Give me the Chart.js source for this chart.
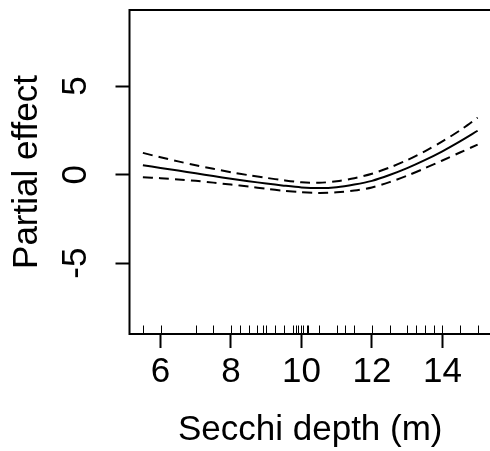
<!DOCTYPE html>
<html lang="en">
<head>
<meta charset="UTF-8">
<title>Secchi depth - partial effect</title>
<script src="https://cdn.jsdelivr.net/npm/chart.js@4/dist/chart.umd.min.js"></script>
<style>
  html, body { margin: 0; padding: 0; background: #fff; overflow: hidden; }
  canvas { display: block; }
</style>
</head>
<body>
<!-- a few pixels wider than the window so the right edge of the box falls outside -->
<canvas id="grafico" width="496" height="451"></canvas>

<script>
// smooth term for Secchi depth: fit and the two dashed bands
var secchi = [5.5, 6.0, 6.5, 7.0, 7.5, 8.0, 8.5, 9.0, 9.5, 10.0, 10.5, 11.0, 11.5, 12.0, 12.5, 13.0, 13.5, 14.0, 14.5, 15.0];
var fitted = [0.53, 0.38, 0.23, 0.08, -0.08, -0.23, -0.37, -0.50, -0.62, -0.72, -0.76, -0.71, -0.56, -0.35, -0.02, 0.37, 0.82, 1.32, 1.88, 2.48];
var upper  = [1.23, 0.98, 0.75, 0.53, 0.33, 0.14, -0.03, -0.18, -0.32, -0.43, -0.46, -0.37, -0.20, 0.05, 0.40, 0.82, 1.32, 1.88, 2.50, 3.22];
var lower  = [-0.14, -0.20, -0.27, -0.35, -0.45, -0.56, -0.67, -0.80, -0.91, -0.99, -1.03, -1.00, -0.90, -0.72, -0.42, -0.06, 0.36, 0.80, 1.25, 1.70];

// observed depths, drawn as a rug along the bottom
var rugDepths = [5.5, 6, 7, 7.5, 8, 8.25, 8.5, 8.75, 8.9, 9, 9.25, 9.5, 9.75, 9.85, 9.9, 10, 10.05, 10.15, 10.2, 10.5,
                 11, 11.25, 11.5, 12, 12.5, 13, 13.25, 13.5, 13.75, 14, 14.5, 15];

var xTicks = [6, 8, 10, 12, 14];
var yTicks = [-5, 0, 5];

var famiglia = '"Liberation Sans", Arial, Helvetica, sans-serif';

function punti(ys) {
    return secchi.map(function(x, i) { return { x: x, y: ys[i] }; });
}

// box round the plot area plus the rug
var boxERug = {
    id: 'boxERug',
    afterDatasetsDraw: function(chart) {
        var ctx = chart.ctx;
        var a = chart.chartArea;
        var sx = chart.scales.x;
        ctx.save();
        ctx.strokeStyle = '#000';
        ctx.lineWidth = 1;
        ctx.beginPath();
        rugDepths.forEach(function(d) {
            var px = Math.round(sx.getPixelForValue(d)) + 0.5;
            ctx.moveTo(px, a.bottom);
            ctx.lineTo(px, a.bottom - 8.5);
        });
        ctx.stroke();
        ctx.lineWidth = 2;
        ctx.strokeRect(a.left, a.top, a.right - a.left, a.bottom - a.top);
        ctx.restore();
    }
};

var linea = { borderColor: '#000', borderWidth: 2, pointRadius: 0, tension: 0.3, fill: false };

var data = {
    datasets: [
        Object.assign({ label: 'upper', data: punti(upper), borderDash: [10, 6] }, linea),
        Object.assign({ label: 'lower', data: punti(lower), borderDash: [10, 6] }, linea),
        Object.assign({ label: 'fit', data: punti(fitted) }, linea)
    ]
};

var options = {
    responsive: false,
    animation: false,
    devicePixelRatio: 1,
    layout: { padding: { top: 10, right: 5, left: 0, bottom: 0 } },
    plugins: { legend: { display: false }, tooltip: { enabled: false } },
    scales: {
        x: {
            type: 'linear',
            min: 5.12,
            max: 15.38,
            afterBuildTicks: function(s) { s.ticks = xTicks.map(function(v) { return { value: v }; }); },
            afterFit: function(s) { s.height = 117; s.paddingLeft = 0; s.paddingRight = 0; },
            border: { display: false },
            grid: { drawOnChartArea: false, drawTicks: true, tickLength: 14, tickColor: '#000', tickWidth: 2 },
            ticks: { color: '#000', padding: 3, maxRotation: 0, font: { size: 35, family: famiglia } },
            title: { display: true, text: 'Secchi depth (m)', color: '#000',
                     font: { size: 35, family: famiglia }, padding: { top: 0, bottom: 0 } }
        },
        y: {
            type: 'linear',
            min: -9.0,
            max: 9.3,
            afterBuildTicks: function(s) { s.ticks = yTicks.map(function(v) { return { value: v }; }); },
            afterFit: function(s) { s.width = 129.5; s.paddingTop = 0; s.paddingBottom = 0; },
            border: { display: false },
            grid: { drawOnChartArea: false, drawTicks: true, tickLength: 14, tickColor: '#000', tickWidth: 2 },
            ticks: { color: '#000', padding: 24, minRotation: 90, maxRotation: 90, crossAlign: 'center',
                     font: { size: 35, family: famiglia } },
            title: { display: true, text: 'Partial effect', color: '#000',
                     font: { size: 35, family: famiglia }, padding: { top: 6, bottom: 0 } }
        }
    }
};

new Chart('grafico', { type: 'line', data: data, options: options, plugins: [boxERug] });
</script>
</body>
</html>
